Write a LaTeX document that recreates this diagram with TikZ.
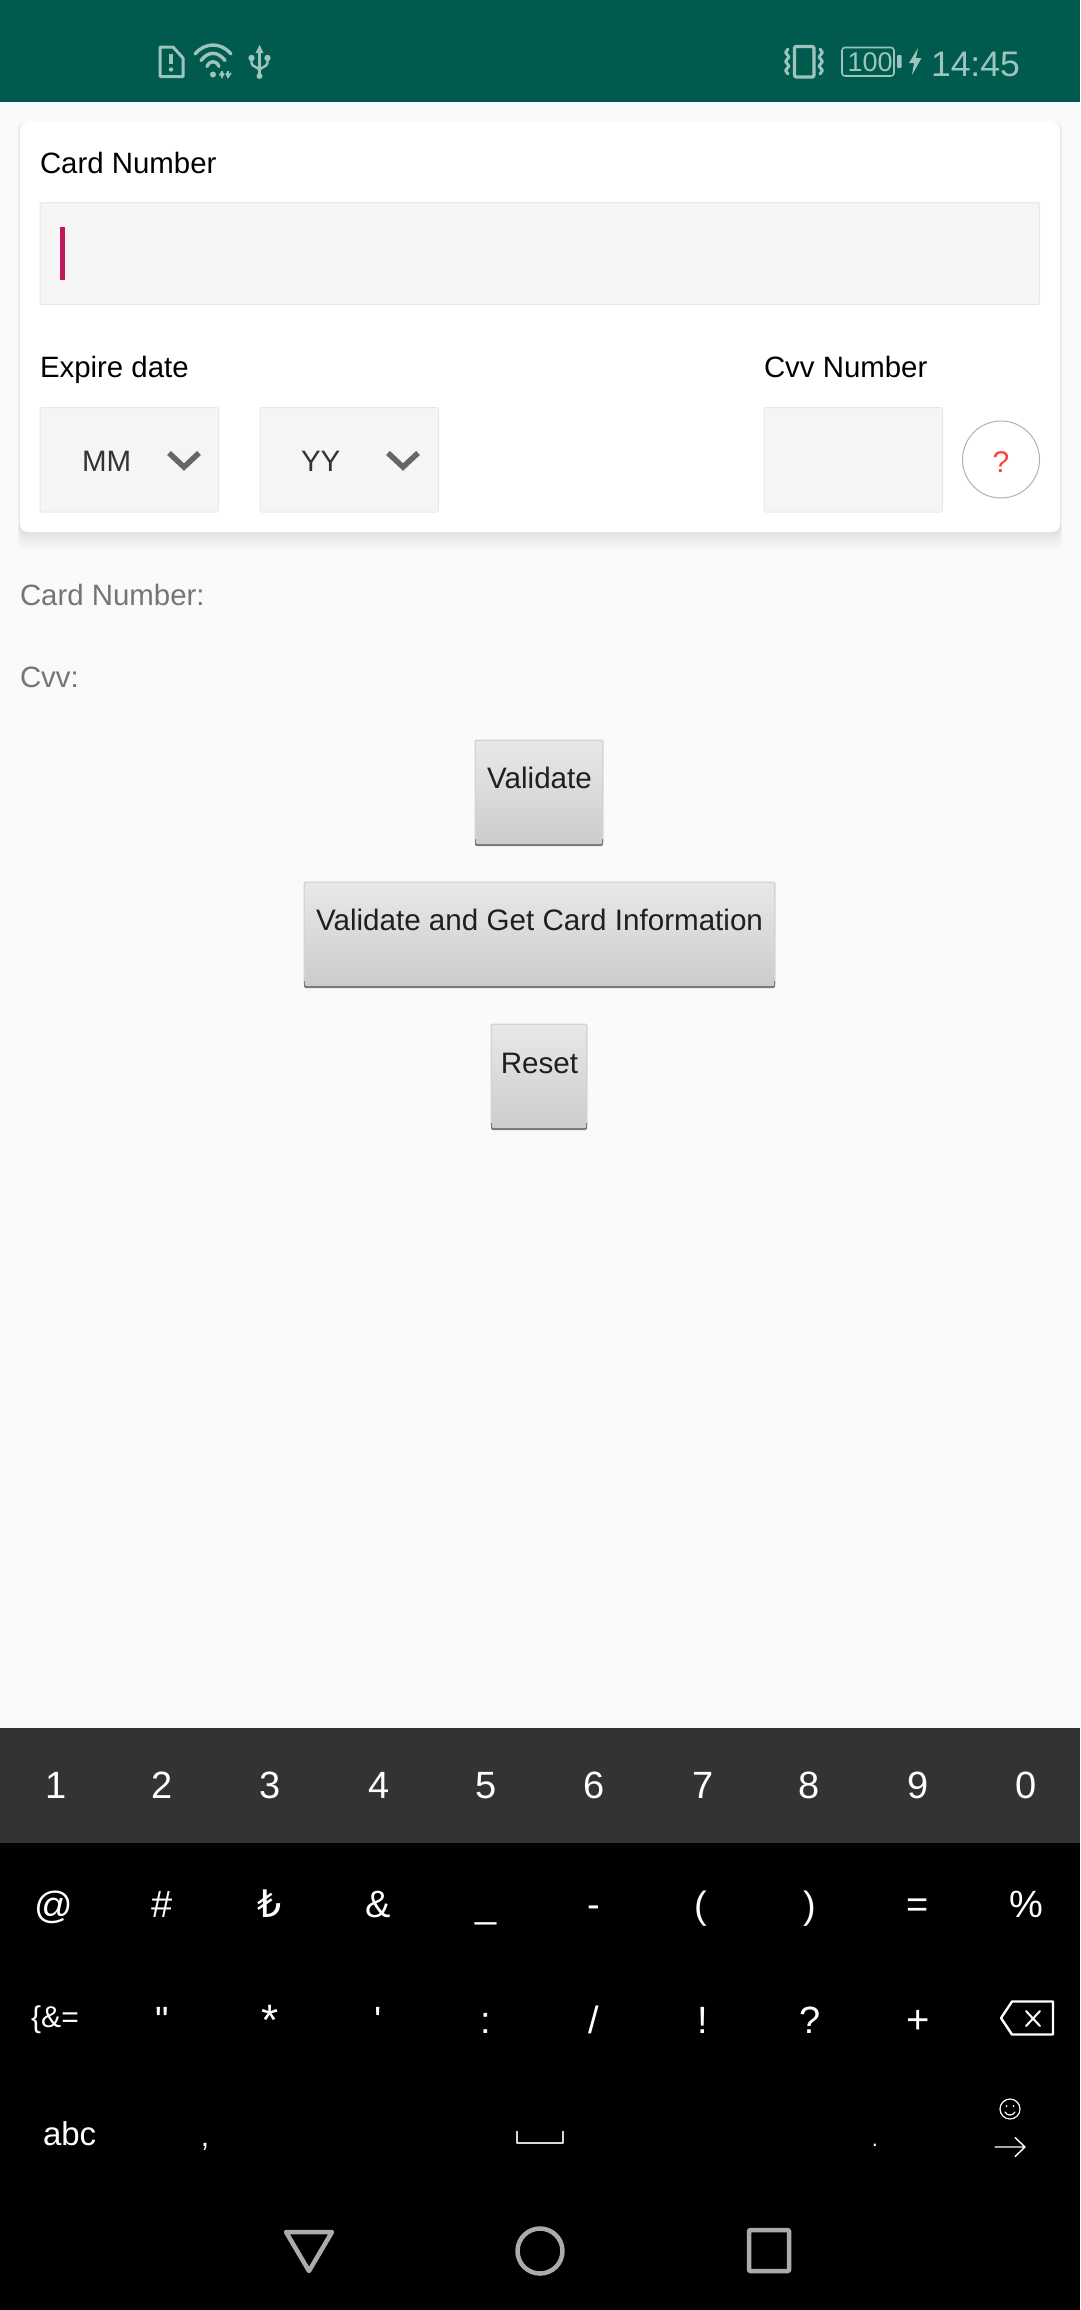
\documentclass[tikz,border=0pt]{standalone}
\usepackage{fontspec}
\setmainfont{Liberation Sans}
\newfontfamily\djv{DejaVu Sans}
\newfontfamily\plainf{Liberation Sans}
\usetikzlibrary{calc}
\definecolor{barbg}{HTML}{005A4E}
\definecolor{baricon}{HTML}{9DC4BC}
\definecolor{pagebg}{HTML}{FAFAFA}
\definecolor{fieldbg}{HTML}{F5F5F5}
\definecolor{fieldline}{HTML}{E8E8E8}
\definecolor{greytext}{HTML}{757575}
\definecolor{numrow}{HTML}{333333}
\definecolor{navgrey}{HTML}{ABABAB}
\definecolor{cursorc}{HTML}{C2185B}
\definecolor{chev}{HTML}{666666}
\newcommand{\fs}[1]{\fontsize{#1}{#1}\selectfont}
\tikzset{
  x=1pt,y=-1pt,
  txt/.style={inner sep=0pt,outer sep=0pt,anchor=base west},
  ctxt/.style={inner sep=0pt,outer sep=0pt,anchor=base},
  label/.style={txt,font=\fs{29.4},text=black},
  val/.style={txt,font=\fs{29.4},text=greytext},
  sel/.style={txt,font=\fs{29.5},text=black!80},
  btntext/.style={ctxt,font=\fs{29.6},text=black!88},
  key/.style={ctxt,font=\fs{38},text=white},
  field/.style={fill=fieldbg,draw=fieldline,line width=1pt,rounded corners=2pt},
  chevron/.style={draw=chev,line width=5.5pt,line cap=butt,line join=miter},
  icon/.style={draw=baricon,line width=3pt,line cap=round,line join=round},
  thinicon/.style={draw=baricon,line width=1.6pt,line join=round},
  nav/.style={draw=navgrey,line width=4.5pt,line join=round},
  kbicon/.style={draw=white,line width=1.6pt,line join=round,line cap=round},
  btnface/.style={top color=black!9,bottom color=black!20},
  btnside/.style={fill=black!17,rounded corners=2pt},
  btnlow/.style={fill=black!52,rounded corners=1.5pt},
}
\begin{document}
\begin{tikzpicture}
\useasboundingbox (0,0) rectangle (1080,2310);
\fill[pagebg] (0,0) rectangle (1080,2310);
% status bar
\fill[barbg] (0,0) rectangle (1080,102);
% sim
\draw[icon] (160,47) -- (173,47) -- (183,58) -- (183,76.5) -- (160,76.5) -- cycle;
\draw[icon,line width=3.5pt,line cap=butt] (171,54) -- (171,64);
\fill[baricon] (171,69.5) circle (2.2pt);
% wifi
\draw[icon,line width=3.4pt] (195,54) .. controls (205,42) and (221,42) .. (231,54);
\draw[icon,line width=3.4pt] (201,60.5) .. controls (208,51) and (218,51) .. (225,60.5);
\draw[icon,line width=3.4pt] (207,66.5) .. controls (210,60) and (216,60) .. (219,66.5);
\fill[baricon] (213,74.5) circle (3pt);
\draw[thinicon] (222,71) -- (222,78) (228,71) -- (228,78) (219.5,75.5) -- (222,72) -- (224,75.5) (226,73) -- (228,77) -- (231,73);
% usb
\fill[baricon] (259.5,45) -- (255.5,53) -- (263.5,53) -- cycle;
\draw[icon,line cap=butt] (259.5,52) -- (259.5,76);
\fill[baricon] (259.5,76) circle (3pt);
\fill[baricon] (251.5,58) circle (3.2pt) (267.5,58) circle (3.2pt);
\draw[icon,line width=2.4pt] (251.5,59) -- (251.5,63) .. controls (251.5,67) and (259.5,67) .. (259.5,71);
\draw[icon,line width=2.4pt] (267.5,59) -- (267.5,63) .. controls (267.5,67) and (259.5,67) .. (259.5,71);
% vibrate
\draw[icon,line width=3.4pt,rounded corners=2pt] (794.5,46.5) rectangle (814,77);
\draw[icon,line width=3pt] (788,49) -- (785.5,52.5) -- (789,57) -- (785.5,61.5) -- (789,66) -- (785.5,70.5) -- (788,74);
\draw[icon,line width=3pt] (820,49) -- (822.5,52.5) -- (819,57) -- (822.5,61.5) -- (819,66) -- (822.5,70.5) -- (820,74);
% battery
\draw[thinicon,rounded corners=3pt] (842,47.5) rectangle (894,76);
\node[txt,font=\fs{27},text=baricon] (batt) at (847.5,71.5) {100};
\fill[baricon,rounded corners=1pt] (897,55) rectangle (901.5,68);
\fill[baricon] (918,48) -- (909,63) -- (914,63) -- (912,75) -- (921.5,58) -- (916,58) -- cycle;
\node[txt,font=\fs{35.5},text=baricon] (clock) at (931,76) {14:45};
% card
\foreach \i in {1,...,8}{
  \fill[black,opacity=0.012,rounded corners=8pt] ({20-\i*0.3},{122}) rectangle ({1060+\i*0.3},{532+\i*2.2});
}
\fill[white,rounded corners=8pt] (20,122) rectangle (1060,532);
\node[label] (cardlabel) at (40,173) {Card Number};
\draw[field] (40,202.5) rectangle (1039.5,304.5);
\fill[cursorc] (60,227) rectangle (65,280);
\node[label] (explabel) at (40,377) {Expire date};
\node[label] (cvvlabel) at (764,377) {Cvv Number};
\draw[field] (40,407.5) rectangle (218.5,512);
\draw[field] (260,407.5) rectangle (438.5,512);
\draw[field] (764,407.5) rectangle (942.5,512);
\node[sel] (mm) at (82,471) {MM};
\node[sel] (yy) at (301,471) {YY};
\draw[chevron] (169,453) -- (184,467) -- (199,453);
\draw[chevron] (388,453) -- (403,467) -- (418,453);
\draw[black!30,line width=1pt] (1001,459.5) circle (38.5pt);
\node[ctxt,font=\fs{30},text=red!75] (help) at (1001,472) {?};
% results
\node[val] (numval) at (20,605) {Card Number:};
\node[val] (cvvval) at (20,687) {Cvv:};
% buttons
\fill[btnside] (474.5,739.5) rectangle (603.5,843);
\fill[btnlow] (475,838) rectangle (603,846);
\shade[btnface] (476.5,741) rectangle (601.5,843.5);
\node[btntext] (b1) at (539.5,788) {Validate};
\fill[btnside] (303.5,881.5) rectangle (775.5,985);
\fill[btnlow] (304,980) rectangle (775,988);
\shade[btnface] (305.5,883) rectangle (773.5,985.5);
\node[btntext] (b2) at (539.5,930) {Validate and Get Card Information};
\fill[btnside] (490.5,1023.5) rectangle (587.5,1127);
\fill[btnlow] (491,1122) rectangle (587,1130);
\shade[btnface] (492.5,1025) rectangle (585.5,1127.5);
\node[btntext] (b3) at (539.5,1073) {Reset};
% keyboard
\fill[black] (0,1728) rectangle (1080,2310);
\fill[numrow] (0,1728) rectangle (1080,1843);
\foreach \n/\k/\xx in {n1/1/56,n2/2/162,n3/3/270,n4/4/379,n5/5/486,n6/6/594,n7/7/703,n8/8/809,n9/9/918,n0/0/1026}{
  \node[key] (\n) at (\xx,1798) {\k};
}
\node[key] (r1a) at (54,1918) {@};
\node[key] (r1b) at (162,1917) {\#};
\node[key,font=\djv\fs{38}] (r1c) at (270,1917) {₺};
\node[key] (r1d) at (378,1917) {\&};
\node[key] (r1e) at (486,1917) {\_};
\node[key] (r1f) at (594,1917) {-};
\node[key] (r1g) at (701,1918) {(};
\node[key] (r1h) at (810,1918) {)};
\node[key] (r1i) at (918,1917) {=};
\node[key] (r1j) at (1026,1917) {\%};
\node[key,font=\fs{30}] (r2a) at (55,2027) {\{\&=};
\node[key,font=\plainf\fs{38}] (r2b) at (162,2033) {"};
\node[key,font=\fs{44}] (r2c) at (270,2035) {*};
\node[key,font=\plainf\fs{38}] (r2d) at (378,2033) {'};
\node[key] (r2e) at (486,2033) {:};
\node[key] (r2f) at (594,2033) {/};
\node[key] (r2g) at (703,2033) {!};
\node[key] (r2h) at (810,2033) {?};
\node[key,font=\fs{40}] (r2i) at (918,2033) {+};
% backspace
\draw[kbicon,line width=2.4pt] (1001,2018) -- (1012,2001.5) -- (1053,2001.5) -- (1053,2034.5) -- (1012,2034.5) -- cycle;
\draw[kbicon,line width=2pt] (1026,2011) -- (1040,2026) (1040,2011) -- (1026,2026);
\node[txt,font=\fs{33},text=white] (abc) at (43,2145) {abc};
\node[key,font=\fs{30}] (comma) at (205,2146) {,};
\draw[kbicon,draw=white!85!black,line width=2pt,line cap=butt] (517,2131) -- (517,2142.5) -- (563,2142.5) -- (563,2131);
\node[key,font=\fs{22}] (dot) at (875,2146) {.};
\draw[kbicon,line width=1.2pt] (1010,2109) circle (10pt);
\fill[white] (1006.5,2106) circle (1pt) (1013.5,2106) circle (1pt);
\draw[kbicon,line width=1.2pt] (1005,2112) .. controls (1007,2116) and (1013,2116) .. (1015,2112);
\draw[kbicon,line width=1.4pt] (995,2147) -- (1025,2147) (1015,2137.5) -- (1025,2147) -- (1015,2156.5);
% navigation
\draw[nav] (286,2232) -- (332,2232) -- (309,2271) -- cycle;
\draw[nav] (540,2251) circle (22.5pt);
\draw[nav,rounded corners=1pt] (749,2230) rectangle (789,2271);
\end{tikzpicture}
\end{document}
